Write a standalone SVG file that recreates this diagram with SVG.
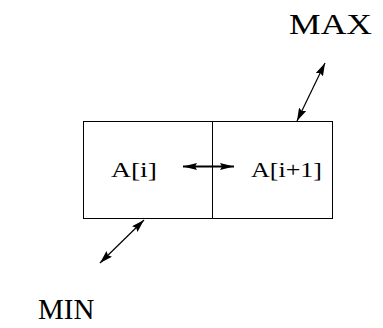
<svg xmlns="http://www.w3.org/2000/svg" width="383" height="328" viewBox="0 0 383 328">
<style>
.cell{fill:none;stroke:#000;stroke-width:1}
.lbl{font-family:"Liberation Serif","Times New Roman",serif;fill:#000}
.arr{stroke:#000;fill:none}
</style>
<defs>
<marker id="h1" viewBox="0 0 13 8" refX="13" refY="4" markerWidth="13" markerHeight="8" markerUnits="userSpaceOnUse" orient="auto-start-reverse">
<path d="M0,0 L13,4 L0,8 L2,4 Z" fill="#000"/>
</marker>
<marker id="h2" viewBox="0 0 14 7" refX="14" refY="3.5" markerWidth="14" markerHeight="7" markerUnits="userSpaceOnUse" orient="auto-start-reverse">
<path d="M0,0 L14,3.5 L0,7 L2,3.5 Z" fill="#000"/>
</marker>
</defs>
<rect width="383" height="328" fill="#fff"/>
<g id="cell-i">
<rect class="cell" x="83.5" y="121.5" width="129" height="97"/>
<text class="lbl" x="111" y="177" font-size="21" textLength="46" lengthAdjust="spacingAndGlyphs">A[i]</text>
</g>
<g id="cell-i1">
<rect class="cell" x="212.5" y="121.5" width="120" height="97"/>
<text class="lbl" x="251" y="177" font-size="21" textLength="71" lengthAdjust="spacingAndGlyphs">A[i+1]</text>
</g>
<g id="max">
<text class="lbl" x="289" y="34" font-size="29" textLength="83" lengthAdjust="spacingAndGlyphs">MAX</text>
</g>
<g id="min">
<text class="lbl" x="38" y="319" font-size="29">MIN</text>
</g>
<g id="connectors">
<line class="arr" x1="183" y1="166.5" x2="234" y2="166.5" stroke-width="2" marker-start="url(#h2)" marker-end="url(#h2)"/>
<line class="arr" x1="297" y1="121" x2="325" y2="63" stroke-width="1.2" marker-start="url(#h1)" marker-end="url(#h1)"/>
<line class="arr" x1="100" y1="263" x2="144" y2="220" stroke-width="1.2" marker-start="url(#h1)" marker-end="url(#h1)"/>
</g>
</svg>
